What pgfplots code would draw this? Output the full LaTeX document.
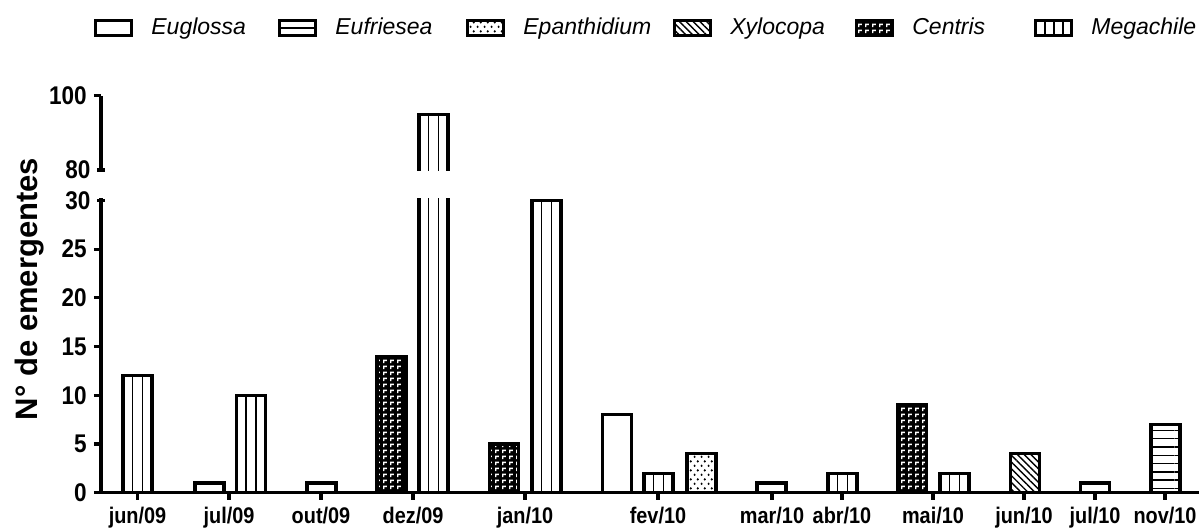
\documentclass[border=0pt]{standalone}
\usepackage{fontspec}
\setmainfont{Liberation Sans}
\newfontfamily\tickfont[FakeStretch=0.88]{Liberation Sans}
\usepackage{pgfplots}
\pgfplotsset{compat=1.18}
\usepackage{pgfplotstable}
\usetikzlibrary{patterns.meta,calc}

\pgfdeclarepattern{
  name=centris, type=uncolored,
  bottom left={\pgfpoint{0pt}{0pt}},
  top right={\pgfpoint{3.35pt}{2.85pt}},
  tile size={\pgfpoint{3.35pt}{2.85pt}},
  code={
    \pgfsetlinewidth{0.75pt}
    \pgfsetbuttcap
    \pgfpathmoveto{\pgfpoint{0.9pt}{0.5pt}}
    \pgfpathlineto{\pgfpoint{0.9pt}{1.9pt}}
    \pgfpathlineto{\pgfpoint{2.5pt}{1.9pt}}
    \pgfusepath{stroke}
  }
}
\pgfdeclarepattern{
  name=epan, type=uncolored,
  bottom left={\pgfpoint{0pt}{0pt}},
  top right={\pgfpoint{3.5pt}{4.4pt}},
  tile size={\pgfpoint{3.5pt}{4.4pt}},
  code={
    \pgfpathcircle{\pgfpoint{0.9pt}{1.1pt}}{0.62pt}
    \pgfpathcircle{\pgfpoint{2.65pt}{3.3pt}}{0.62pt}
    \pgfusepath{fill}
  }
}

\pgfplotstableread{
x y
209.5 1
321.5 1
617 8
771.5 1
1095 1
}\eug
\pgfplotstableread{
x y
1165.5 7
}\euf
\pgfplotstableread{
x y
701.5 4
}\epa
\pgfplotstableread{
x y
1025 4
}\xyl
\pgfplotstableread{
x y
391.5 14
504 5
912 9
}\cen
\pgfplotstableread{
x y
137.5 12
251 10
433.5 95
546.5 30
658.5 2
842.5 2
954.5 2
}\meg

\pgfplotsset{
  bee/.style={ybar, bar width=14.5pt, bar shift=0pt, draw=black, line width=1.6pt},
  megsub/.style={ybar, bar width=4.833pt, bar shift=#1, draw=black, line width=0.75pt, fill=white, forget plot},
  common/.style={
    scale only axis, width=549pt,
    xmin=101, xmax=1199,
    axis line style={line width=1.7pt},
    tick style={line width=1.6pt, black},
    tick align=outside, major tick length=3.6pt,
    yticklabel style={font=\tickfont\bfseries\fontsize{12.8}{13}\selectfont},
    xticklabel style={font=\tickfont\bfseries\fontsize{11.3}{12}\selectfont},
    /pgf/number format/assume math mode=true,
    extra y tick style={tick align=center},
  },
}

\begin{document}
\begin{tikzpicture}
\useasboundingbox (-50.5pt,-18.65pt) rectangle (549.5pt,246.35pt);
\begin{axis}[common,
  name=lower, at={(0pt,0pt)}, anchor=south west,
  height=147.1pt,
  ymin=0, ymax=30.2,
  axis lines*=left,
  ytick={0,5,10,15,20,25}, extra y ticks={30}, extra y tick labels={30},
  xtick={137.5,229,321,413,525,658,772,842,933,1024,1095,1165},
  xticklabels={jun/09,jul/09,out/09,dez/09,jan/10,fev/10,mar/10,abr/10,mai/10,jun/10,jul/10,nov/10},
  legend columns=6,
  legend cell align=left,
  legend style={draw=none, fill=none, inner sep=0pt, at={(-0.0064,1.5795)}, anchor=west,
    font=\itshape\fontsize{11.5}{13}\selectfont,
    nodes={inner xsep=0pt, inner ysep=1pt},
    /tikz/every odd column/.append style={column sep=9pt},
    /tikz/every even column/.append style={column sep=0pt}},
]
\addplot[bee, fill=white,
  legend image code/.code={\draw[line width=1.5pt, fill=white] (0pt,-3.6pt) rectangle (18pt,3.6pt);}]
  table {\eug};
\addlegendentry{\makebox[63.5pt][l]{Euglossa}}
\addplot[bee, pattern={Lines[angle=0,distance=4.15pt,line width=0.75pt]}, pattern color=black,
  legend image code/.code={\draw[line width=1.5pt, fill=white] (0pt,-3.6pt) rectangle (18pt,3.6pt); \draw[line width=1.3pt] (0pt,0pt) -- (18pt,0pt);}]
  table {\euf};
\addlegendentry{\makebox[65.5pt][l]{Eufriesea}}
\addplot[bee, pattern=epan, pattern color=black,
  legend image code/.code={\draw[line width=1.5pt, fill=white, postaction={pattern=epan, pattern color=black}] (0pt,-3.6pt) rectangle (18pt,3.6pt);}]
  table {\epa};
\addlegendentry{\makebox[75pt][l]{Epanthidium}}
\addplot[bee, pattern={Lines[angle=-45,distance=2.4pt,line width=0.7pt]}, pattern color=black,
  legend image code/.code={\draw[line width=1.5pt, fill=white, postaction={pattern={Lines[angle=-45,distance=2.4pt,line width=0.7pt]}, pattern color=black}] (0pt,-3.6pt) rectangle (18pt,3.6pt);}]
  table {\xyl};
\addlegendentry{\makebox[62.5pt][l]{Xylocopa}}
\addplot[bee, fill=black, forget plot] table {\cen};
\addplot[bee, pattern=centris, pattern color=white,
  legend image code/.code={\draw[line width=1.5pt, fill=black, postaction={pattern=centris, pattern color=white}] (0pt,-3.6pt) rectangle (18pt,3.6pt);}]
  table {\cen};
\addlegendentry{\makebox[61pt][l]{Centris}}
\addplot[megsub=-4.833pt] table {\meg};
\addplot[megsub=0pt] table {\meg};
\addplot[megsub=4.833pt] table {\meg};
\addplot[bee, fill=none,
  legend image code/.code={\draw[line width=1.5pt, fill=white] (0pt,-3.6pt) rectangle (18pt,3.6pt); \draw[line width=1.3pt] (4.5pt,-3.6pt)--(4.5pt,3.6pt) (9pt,-3.6pt)--(9pt,3.6pt) (13.5pt,-3.6pt)--(13.5pt,3.6pt);}]
  table {\meg};
\addlegendentry{Megachile}
\end{axis}

\begin{axis}[common,
  name=upper, at={($(lower.north west)+(0pt,14.2pt)$)}, anchor=south west,
  height=37.15pt,
  ymin=80, ymax=100,
  axis x line=none, axis y line*=left,
  xtick=\empty,
  ytick={100}, extra y ticks={80}, extra y tick labels={80},
]
% upper part of the dez/09 Megachile bar (value 95), cut by the axis break
\addplot[line width=0.75pt] coordinates {(428.667,0) (428.667,95)};
\addplot[line width=0.75pt] coordinates {(438.333,0) (438.333,95)};
\addplot[line width=1.6pt, line join=miter] coordinates {(419,0) (419,95) (448,95) (448,0)};
\end{axis}

\node[rotate=90, font=\bfseries\fontsize{15.5}{18}\selectfont] at (-35.5pt,101.85pt) {N° de emergentes};
\end{tikzpicture}
\end{document}
